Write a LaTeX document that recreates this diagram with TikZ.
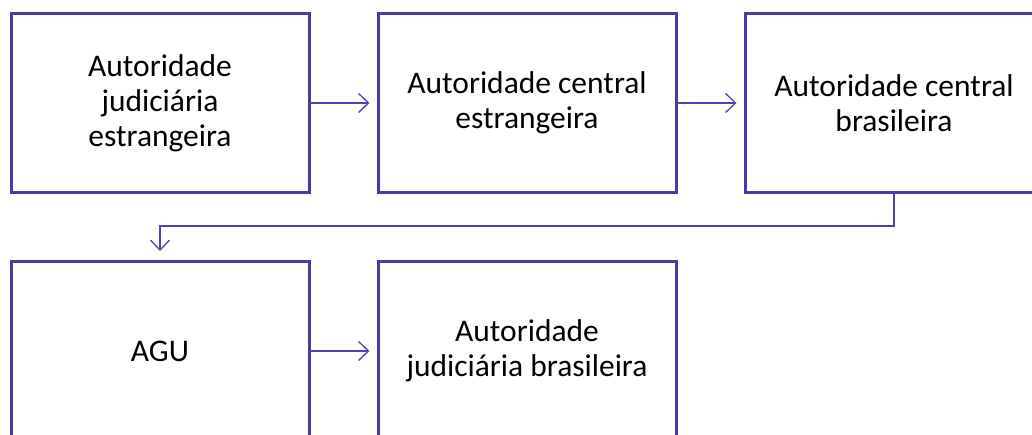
\documentclass[tikz,border=0pt]{standalone}
\usepackage{fontspec}
\setmainfont{Carlito}
\usetikzlibrary{arrows.meta}
\definecolor{bordc}{RGB}{72,58,170}
\definecolor{linec}{RGB}{80,66,180}
\tikzset{
  box/.style={draw=bordc, line width=3pt, fill=white, minimum width=298pt, minimum height=179pt, inner sep=0pt, align=center, font=\fontsize{31.5}{35}\selectfont, text=black},
  conn/.style={draw=linec, line width=1.3pt, -{Straight Barb[length=10pt,width=19pt,line width=1.3pt]}}
}
\begin{document}
\begin{tikzpicture}[x=1pt,y=-1pt]
\useasboundingbox (0,0) rectangle (1032,435);
\clip (0,0) rectangle (1032,435);
\node[box] (b1) at (160,103) {Autoridade\\judiciária\\estrangeira};
\node[box] (b2) at (527,103) {Autoridade central\\estrangeira};
\node[box] (b3) at (894,103) {Autoridade central\\brasileira};
\node[box] (b4) at (160,351) {AGU};
\node[box] (b5) at (527,351) {Autoridade\\judiciária brasileira};
\draw[conn] (b1.east) -- ([xshift=-7pt]b2.west);
\draw[conn] (b2.east) -- ([xshift=-7pt]b3.west);
\draw[conn] (b4.east) -- ([xshift=-7pt]b5.west);
\coordinate (m) at (894,226);
\draw[conn] (b3.south) -- (m) -| ([yshift=9pt]b4.north);
\end{tikzpicture}
\end{document}
